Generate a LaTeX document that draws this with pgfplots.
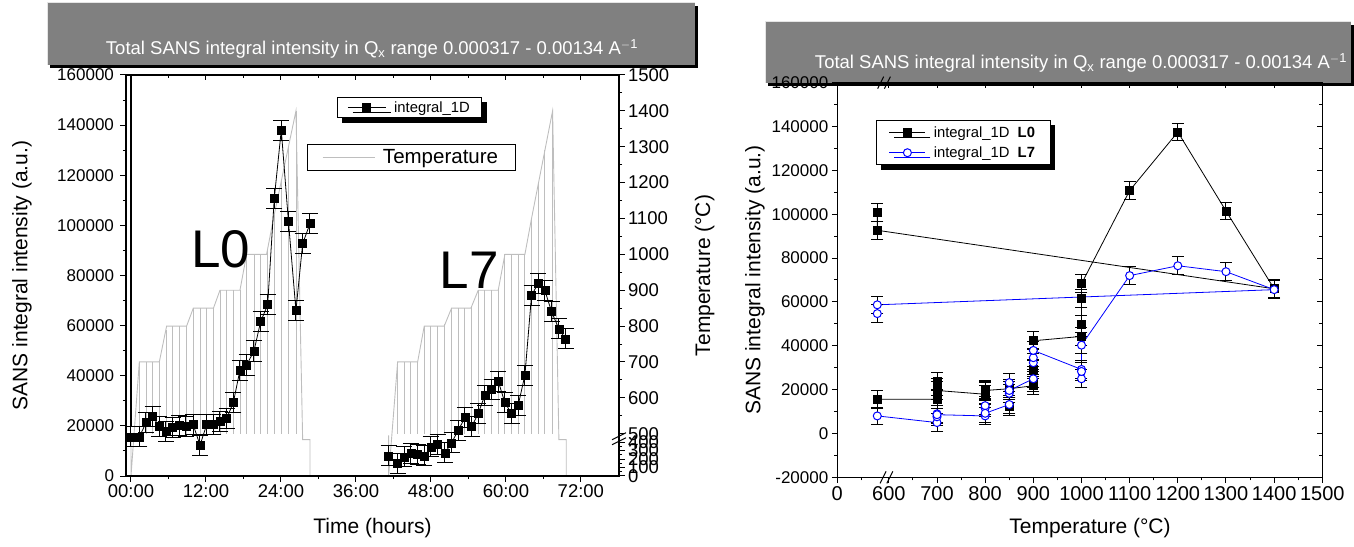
\documentclass[border=0pt]{standalone}
\usepackage{pgfplots}
\pgfplotsset{compat=1.18}
\usepackage{pgfplotstable}
\usepackage{fontspec}
\setmainfont{Liberation Sans}
\usetikzlibrary{shadows}
\definecolor{tgray}{RGB}{190,190,190}
\definecolor{titlegray}{RGB}{128,128,128}
\newcommand{\fs}[1]{\fontsize{#1}{#1}\selectfont}

% ---- left panel: intensity vs time ----
\pgfplotstableread{
t I
0 15600
1.33 15600
2.4 21200
3.47 23880
4.53 19600
5.6 17880
6.67 19200
7.73 20000
8.8 19600
9.97 20400
11.04 12280
12.1 20400
13.17 20400
14.24 21760
15.3 22960
16.37 29200
17.44 42280
18.5 44280
19.68 49880
20.75 61600
21.87 68280
22.93 110800
24.05 138000
25.2 101480
26.4 66000
27.47 92680
28.64 100680
}\LzeroTime
\pgfplotstableread{
t I
41.23 8000
42.67 4960
43.73 7600
44.8 8960
45.87 8560
46.93 8000
48.0 11600
49.07 12680
50.24 9200
51.3 13200
52.37 18280
53.44 23200
54.5 19600
55.57 24960
56.64 32280
57.7 34560
58.77 37880
59.84 29200
60.9 24960
61.97 28280
63.04 40280
64.1 72000
65.17 76960
66.24 74000
67.3 65600
68.48 58680
69.55 54680
}\LsevenTime
% temperature profile (values below 500 C shown on the compressed part: T' = 382 + 0.236 T)
\pgfplotstableread{
t T
0 500
0 382
1.33 700
4.53 700
5.7 800
8.9 800
9.97 850
13.2 850
14.24 900
17.44 900
18.5 1000
21.7 1000
22.8 1100
25.2 1300
26.4 1400
27.47 483.5
28.64 483.5
28.64 382
nan nan
41.23 495
41.23 382
42.67 700
45.87 700
46.93 800
50.13 800
51.3 850
54.4 850
55.57 900
58.77 900
59.84 1000
63.04 1000
64.1 1100
66.35 1300
67.47 1400
68.48 483.5
69.65 483.5
69.65 382
}\Tprofile
\pgfplotstableread{
t T
1.33 700
2.4 700
3.47 700
4.53 700
5.6 790
6.67 800
7.73 800
8.8 800
9.97 850
11.04 850
12.1 850
13.17 850
14.24 900
15.3 900
16.37 900
17.44 900
18.5 995
19.68 1000
20.75 1000
21.87 1015
22.93 1110
24.05 1205
25.2 1300
26.4 1400
42.67 700
43.73 700
44.8 700
45.87 700
46.93 800
48.0 800
49.07 800
50.24 805
51.3 850
52.37 850
53.44 850
54.5 855
55.57 900
56.64 900
57.7 900
58.77 900
59.84 1000
60.9 1000
61.97 1000
63.04 1000
64.1 1100
65.17 1195
66.24 1290
67.4 1395
}\Thatch
% ---- right panel: intensity vs temperature (576 = unheated / room-temperature position) ----
\pgfplotstableread{
T I
576 15600
700 15600
700 21200
700 23880
700 19600
800 17880
800 19200
800 20000
800 19600
850 20400
850 12280
850 20400
850 20400
900 21760
900 22960
900 29200
900 42280
1000 44280
1000 49880
1000 61600
1000 68280
1100 110800
1200 137500
1300 101480
1400 66000
576 92680
576 100680
}\LzeroTemp
\pgfplotstableread{
T I
576 8000
700 4960
700 7600
700 8960
700 8560
800 8000
800 11600
800 12680
800 9200
850 13200
850 18280
850 23200
850 19600
900 24960
900 32280
900 34560
900 37880
1000 29200
1000 24960
1000 28280
1000 40280
1100 72000
1200 76500
1300 73800
1400 65600
576 58680
576 54680
}\LsevenTemp

\pgfplotsset{
  common/.style={
    scale only axis,
    axis line style={line width=1.2pt},
    major tick length=5.5pt,
    minor tick length=3pt,
    every tick/.style={line width=1pt, black},
    scaled ticks=false,
    /pgf/number format/assume math mode=true,
    /pgf/number format/fixed,
    /pgf/number format/1000 sep={},
  },
  ebar/.style={error bars/.cd, y dir=both, y fixed=4000,
    error mark options={rotate=90, mark size=#1, line width=1pt, black},
    error bar style={line width=1pt, solid, black}},
}

\begin{document}
\begin{tikzpicture}[x=1pt,y=1pt]
\useasboundingbox (0,0) rectangle (1354,546);

% ---------- title bars ----------
\fill[black] (50,478) rectangle (698,540);
\fill[titlegray] (47,481) rectangle (695,543);
\draw[white!80!gray, line width=1pt] (47,481) -- (47,543) -- (695,543);
\node[white, font=\fs{18.5}] at (372,497) {Total SANS integral intensity in Q$_{\mathrm{x}}$ range 0.000317 - 0.00134 A$^{\mathrm{-1}}$};

\fill[black] (768,460) rectangle (1354,521);
\fill[titlegray] (765,463) rectangle (1351,524);
\draw[white!80!gray, line width=1pt] (765,463) -- (765,524) -- (1351,524);
\node[white, font=\fs{18.5}] at (1081,483) {Total SANS integral intensity in Q$_{\mathrm{x}}$ range 0.000317 - 0.00134 A$^{\mathrm{-1}}$};

% ---------- LEFT PANEL: temperature axis (right) ----------
\begin{axis}[common,
  at={(126pt,70pt)}, anchor=south west, width=493pt, height=401pt,
  xmin=-0.8, xmax=78.1, ymin=382, ymax=1500,
  axis x line=none, axis y line*=right,
  tick align=outside,
  ytick={382,405.6,429.2,452.8,476.4,500,600,700,800,900,1000,1100,1200,1300,1400,1500},
  yticklabels={0,100,200,300,400,500,600,700,800,900,1000,1100,1200,1300,1400,1500},
  minor ytick={393.8,417.4,441,464.6,550,650,750,850,950,1050,1150,1250,1350,1450},
  yticklabel style={font=\fs{18.5}},
  ylabel={Temperature (°C)},
  ylabel style={font=\fs{21}, at={(axis description cs:1.174,0.5)}, anchor=center, rotate=0},
  clip=false,
  unbounded coords=jump,
  legend style={at={(0.3665,0.828)}, anchor=north west, draw=black, line width=0.8pt,
    font=\fs{20.5}, inner xsep=15pt, inner ysep=3pt, column sep=6pt},
  legend image code/.code={\draw[#1] (0pt,0pt) -- (52pt,0pt);},
]
\addplot[draw=none, mark=none, forget plot,
  error bars/.cd, y dir=minus, y explicit, error mark=none,
  error bar style={draw=tgray, line width=0.9pt, solid}]
  table[x=t, y=T, y error minus expr=\thisrow{T}-500] {\Thatch};
\addplot[tgray, line width=0.9pt, mark=none] table[x=t, y=T] {\Tprofile};
\addlegendentry{Temperature}
\draw[black, line width=1pt] (axis cs:78.1,493) ++(-7pt,-3.5pt) -- ++(14pt,7pt);
\draw[black, line width=1pt] (axis cs:78.1,479) ++(-7pt,-3.5pt) -- ++(14pt,7pt);
\end{axis}

% top ticks (inside)
\begin{axis}[common,
  at={(126pt,70pt)}, anchor=south west, width=493pt, height=401pt,
  xmin=-0.8, xmax=78.1, ymin=0, ymax=160000,
  axis y line=none, axis x line*=top, tick align=inside,
  xtick={0,12,24,36,48,60,72}, minor x tick num=1, xticklabels={},
]
\end{axis}

% ---------- LEFT PANEL: main intensity axis ----------
\begin{axis}[common,
  at={(126pt,70pt)}, anchor=south west, width=493pt, height=401pt,
  xmin=-0.8, xmax=78.1, ymin=0, ymax=160000,
  xtick pos=bottom, ytick pos=left, tick align=outside,
  xtick={0,12,24,36,48,60,72},
  xticklabels={00:00,12:00,24:00,36:00,48:00,60:00,72:00},
  minor x tick num=1,
  ytick={0,20000,...,160000}, minor y tick num=1,
  xticklabel style={font=\fs{18.5}},
  yticklabel style={font=\fs{17}, xshift=-3pt},
  xlabel={Time (hours)},
  xlabel style={font=\fs{21}, at={(axis description cs:0.5,-0.13)}, anchor=center},
  ylabel={SANS integral intensity (a.u.)},
  ylabel style={font=\fs{21}, at={(axis description cs:-0.211,0.5)}, anchor=center},
  legend style={at={(0.428,0.945)}, anchor=north west, draw=black, line width=0.8pt,
    font=\fs{14.8}, inner xsep=10pt, inner ysep=2pt, column sep=6pt,
    drop shadow={shadow xshift=5pt, shadow yshift=-5pt, fill=black, opacity=1}},
  legend image code/.code={\draw[mark repeat=2,mark phase=2,#1] plot coordinates {(0pt,0pt) (19pt,0pt) (38pt,0pt)};},
]
\addplot[black, line width=1.2pt, mark=none, forget plot] coordinates {(0,19600) (0,160000)};
\addplot[black, line width=0.8pt, mark=square*, mark size=4pt, forget plot, ebar=8pt]
  table[x=t, y=I] {\LzeroTime};
\addplot[black, line width=0.8pt, mark=square*, mark size=4pt, forget plot, ebar=8pt]
  table[x=t, y=I] {\LsevenTime};
\addlegendimage{black, line width=0.8pt, mark=square*, mark size=4pt}
\addlegendentry{integral\_1D}
\node[font=\fs{53}] at (axis cs:14.4,90280) {L0};
\node[font=\fs{53}] at (axis cs:54.1,82280) {L7};
\end{axis}

% ---------- RIGHT PANEL ----------
\begin{axis}[common,
  at={(837.3pt,68.7pt)}, anchor=south west, width=485pt, height=394.6pt,
  xmin=493, xmax=1500, ymin=-20000, ymax=160000,
  axis x line*=top, axis y line*=right, tick align=inside,
  xtick={493,600,700,...,1500}, minor xtick={543,650,750,...,1450},
  ytick={-20000,0,...,160000}, minor y tick num=1,
  xticklabels={}, yticklabels={},
]
\end{axis}
\begin{axis}[common,
  at={(837.3pt,68.7pt)}, anchor=south west, width=485pt, height=394.6pt,
  xmin=493, xmax=1500, ymin=-20000, ymax=160000,
  xtick pos=bottom, ytick pos=left, tick align=outside,
  xtick={493,600,700,...,1500},
  xticklabels={0,600,700,800,900,1000,1100,1200,1300,1400,1500},
  minor xtick={543,650,750,...,1450},
  ytick={-20000,0,...,160000}, minor y tick num=1,
  xticklabel style={font=\fs{20}},
  yticklabel style={font=\fs{17}},
  xlabel={Temperature (°C)},
  xlabel style={font=\fs{21}, at={(axis description cs:0.521,-0.128)}, anchor=center},
  ylabel={SANS integral intensity (a.u.)},
  ylabel style={font=\fs{21}, at={(axis description cs:-0.17,0.5)}, anchor=center},
  clip=false,
  legend style={at={(0.079,0.9055)}, anchor=north west, draw=black, line width=0.8pt,
    font=\fs{14.8}, inner xsep=13pt, inner ysep=4pt, row sep=4pt, column sep=6pt,
    drop shadow={shadow xshift=5pt, shadow yshift=-5pt, fill=black, opacity=1}},
  legend cell align=left,
  legend image code/.code={\draw[mark repeat=2,mark phase=2,#1] plot coordinates {(0pt,0pt) (18pt,0pt) (36pt,0pt)};},
]
\addplot[black, line width=0.8pt, mark=square*, mark size=4pt, forget plot, ebar=6pt]
  table[x=T, y=I] {\LzeroTemp};
\addplot[blue, line width=0.8pt, mark=*, mark size=4pt, mark options={fill=white, draw=blue, line width=1pt}, forget plot, ebar=6pt]
  table[x=T, y=I] {\LsevenTemp};
\addlegendimage{black, line width=0.8pt, mark=square*, mark size=4pt}
\addlegendentry{integral\_1D\ \ \textbf{L0}}
\addlegendimage{blue, line width=0.8pt, mark=*, mark size=4pt, mark options={fill=white, draw=blue, line width=1pt}}
\addlegendentry{integral\_1D\ \ \textbf{L7}}
\draw[black, line width=1pt] (axis cs:583,160000) ++(-3pt,-6pt) -- ++(6pt,12pt);
\draw[black, line width=1pt] (axis cs:597,160000) ++(-3pt,-6pt) -- ++(6pt,12pt);
\draw[black, line width=1pt] (axis cs:588,-20000) ++(-3pt,-6pt) -- ++(6pt,12pt);
\draw[black, line width=1pt] (axis cs:602,-20000) ++(-3pt,-6pt) -- ++(6pt,12pt);
\end{axis}
\end{tikzpicture}
\end{document}
